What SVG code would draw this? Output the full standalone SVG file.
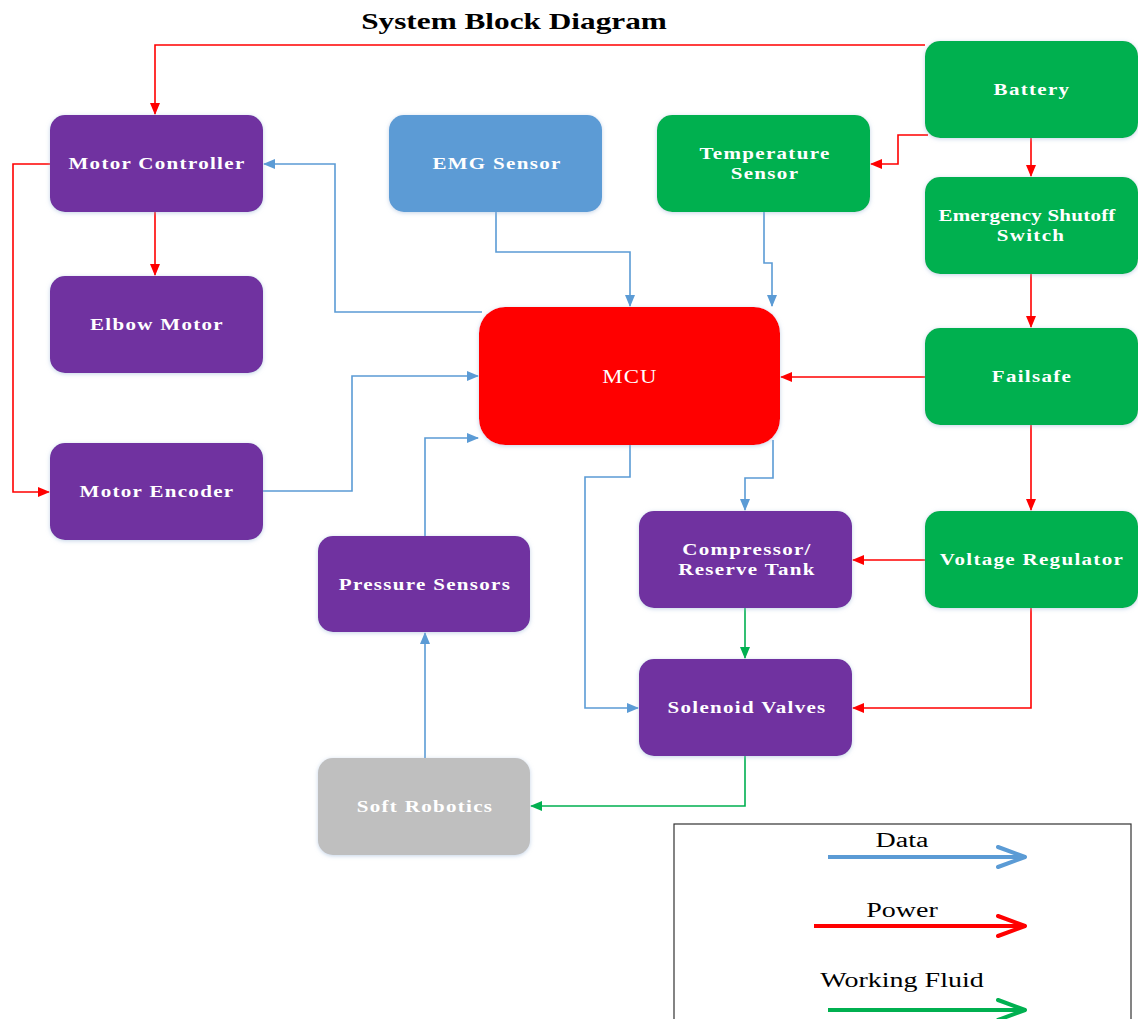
<svg xmlns="http://www.w3.org/2000/svg" width="1138" height="1019" viewBox="0 0 1138 1019">
  <style>
    .box { stroke: none; filter: url(#shadow); }
    .purple { fill: #7030A0; }
    .green { fill: #00B050; }
    .blue { fill: #5B9BD5; }
    .red { fill: #FF0000; }
    .gray { fill: #BFBFBF; }
    .label { font-family: "Liberation Serif", "Times New Roman", serif; font-weight: bold; font-size: 17.5px; fill: #FFFFFF; text-anchor: middle; letter-spacing: 1.1px; }
    .label.tight { letter-spacing: 0.2px; }
    .data { fill: none; stroke: #5B9BD5; stroke-width: 1.6; marker-end: url(#ahData); }
    .power { fill: none; stroke: #FF0000; stroke-width: 1.6; marker-end: url(#ahPower); }
    .fluid { fill: none; stroke: #00B050; stroke-width: 1.6; marker-end: url(#ahFluid); }
    .legtext { font-family: "Liberation Serif", "Times New Roman", serif; font-size: 20px; fill: #000000; text-anchor: middle; }
  </style>
  <defs>
    <filter id="shadow" x="-10%" y="-10%" width="120%" height="125%">
      <feGaussianBlur in="SourceAlpha" stdDeviation="2"/>
      <feOffset dx="0" dy="1" result="b"/>
      <feFlood flood-color="#9DB7D8" flood-opacity="0.6"/>
      <feComposite in2="b" operator="in"/>
      <feMerge><feMergeNode/><feMergeNode in="SourceGraphic"/></feMerge>
    </filter>
    <marker id="ahData" markerWidth="12" markerHeight="10" refX="11" refY="5" orient="auto" markerUnits="userSpaceOnUse">
      <path d="M0,0 L12,5 L0,10 Z" fill="#5B9BD5"/>
    </marker>
    <marker id="ahPower" markerWidth="12" markerHeight="10" refX="11" refY="5" orient="auto" markerUnits="userSpaceOnUse">
      <path d="M0,0 L12,5 L0,10 Z" fill="#FF0000"/>
    </marker>
    <marker id="ahFluid" markerWidth="12" markerHeight="10" refX="11" refY="5" orient="auto" markerUnits="userSpaceOnUse">
      <path d="M0,0 L12,5 L0,10 Z" fill="#00B050"/>
    </marker>
  </defs>

  <rect width="1138" height="1019" fill="#FFFFFF"/>

  <text transform="translate(514,29) scale(1.36,1)" font-family="Liberation Serif, Times New Roman, serif" font-weight="bold" font-size="23" text-anchor="middle" fill="#000000">System Block Diagram</text>

  <!-- connectors -->
  <g id="connectors">
    <!-- power -->
    <path class="power" d="M925,45 H155 V114"/>
    <path class="power" d="M928,135 H898 V164 H871"/>
    <path class="power" d="M1031,137 V176"/>
    <path class="power" d="M1031,274 V327"/>
    <path class="power" d="M925,377 H781"/>
    <path class="power" d="M1031,424 V510"/>
    <path class="power" d="M925,560 H853"/>
    <path class="power" d="M1031,608 V708 H853"/>
    <path class="power" d="M155,212 V275"/>
    <path class="power" d="M50,164 H13 V492 H49"/>
    <!-- data -->
    <path class="data" d="M482,312 H335 V164 H264"/>
    <path class="data" d="M496,212 V252 H630 V306"/>
    <path class="data" d="M764,212 V263 H772 V306"/>
    <path class="data" d="M263,491 H352 V376 H478"/>
    <path class="data" d="M425,536 V438 H478"/>
    <path class="data" d="M630,445 V477 H585 V708 H638"/>
    <path class="data" d="M773,440 V478 H745 V510"/>
    <path class="data" d="M425,758 V633"/>
    <!-- working fluid -->
    <path class="fluid" d="M745,608 V658"/>
    <path class="fluid" d="M745,756 V806 H531"/>
  </g>

  <!-- nodes (labels are drawn slightly widened) -->
  <g id="motor-controller">
    <rect class="box purple" x="50" y="115" width="213" height="97" rx="15"/>
    <text class="label" transform="translate(157,169) scale(1.2,1)">Motor Controller</text>
  </g>
  <g id="elbow-motor">
    <rect class="box purple" x="50" y="276" width="213" height="97" rx="15"/>
    <text class="label" transform="translate(157,330) scale(1.2,1)">Elbow Motor</text>
  </g>
  <g id="motor-encoder">
    <rect class="box purple" x="50" y="443" width="213" height="97" rx="15"/>
    <text class="label" transform="translate(157,497) scale(1.2,1)">Motor Encoder</text>
  </g>
  <g id="emg-sensor">
    <rect class="box blue" x="389" y="115" width="213" height="97" rx="15"/>
    <text class="label" transform="translate(497,169) scale(1.2,1)">EMG Sensor</text>
  </g>
  <g id="temperature-sensor">
    <rect class="box green" x="657" y="115" width="213" height="97" rx="15"/>
    <text class="label" transform="translate(765,159) scale(1.2,1)">Temperature</text>
    <text class="label" transform="translate(765,179) scale(1.2,1)">Sensor</text>
  </g>
  <g id="battery">
    <rect class="box green" x="925" y="41" width="213" height="97" rx="15"/>
    <text class="label" transform="translate(1032,95) scale(1.2,1)">Battery</text>
  </g>
  <g id="emergency-shutoff">
    <rect class="box green" x="925" y="177" width="213" height="97" rx="15"/>
    <text class="label tight" transform="translate(1027,221) scale(1.2,1)">Emergency Shutoff</text>
    <text class="label" transform="translate(1031,241) scale(1.2,1)">Switch</text>
  </g>
  <g id="failsafe">
    <rect class="box green" x="925" y="328" width="213" height="97" rx="15"/>
    <text class="label" transform="translate(1032,382) scale(1.2,1)">Failsafe</text>
  </g>
  <g id="voltage-regulator">
    <rect class="box green" x="925" y="511" width="213" height="97" rx="15"/>
    <text class="label" transform="translate(1032,565) scale(1.2,1)">Voltage Regulator</text>
  </g>
  <g id="mcu">
    <rect class="box red" x="479" y="307" width="301" height="138" rx="26"/>
    <text transform="translate(630,383) scale(1.2,1)" font-family="Liberation Serif, Times New Roman, serif" font-size="19" fill="#FFFFFF" text-anchor="middle" letter-spacing="1">MCU</text>
  </g>
  <g id="compressor">
    <rect class="box purple" x="639" y="511" width="213" height="97" rx="15"/>
    <text class="label" transform="translate(747,555) scale(1.2,1)">Compressor/</text>
    <text class="label" transform="translate(747,575) scale(1.2,1)">Reserve Tank</text>
  </g>
  <g id="solenoid-valves">
    <rect class="box purple" x="639" y="659" width="213" height="97" rx="15"/>
    <text class="label" transform="translate(747,713) scale(1.2,1)">Solenoid Valves</text>
  </g>
  <g id="pressure-sensors">
    <rect class="box purple" x="318" y="536" width="212" height="96" rx="15"/>
    <text class="label" transform="translate(425,590) scale(1.2,1)">Pressure Sensors</text>
  </g>
  <g id="soft-robotics">
    <rect class="box gray" x="318" y="758" width="212" height="97" rx="15"/>
    <text class="label" transform="translate(425,812) scale(1.2,1)">Soft Robotics</text>
  </g>

  <!-- legend -->
  <g id="legend">
    <rect x="674" y="824" width="457" height="200" fill="none" stroke="#333333" stroke-width="1.2"/>
    <text class="legtext" transform="translate(902,847) scale(1.4,1)">Data</text>
    <line x1="828" y1="857" x2="1024" y2="857" stroke="#5B9BD5" stroke-width="4"/>
    <polyline points="998,847 1025,857 998,867" fill="none" stroke="#5B9BD5" stroke-width="4" stroke-linecap="round" stroke-linejoin="round"/>
    <text class="legtext" transform="translate(902,917) scale(1.4,1)">Power</text>
    <line x1="814" y1="926" x2="1024" y2="926" stroke="#FF0000" stroke-width="4"/>
    <polyline points="998,916 1025,926 998,936" fill="none" stroke="#FF0000" stroke-width="4" stroke-linecap="round" stroke-linejoin="round"/>
    <text class="legtext" transform="translate(902,987) scale(1.4,1)">Working Fluid</text>
    <line x1="828" y1="1010" x2="1024" y2="1010" stroke="#00B050" stroke-width="4"/>
    <polyline points="998,1000 1025,1010 998,1020" fill="none" stroke="#00B050" stroke-width="4" stroke-linecap="round" stroke-linejoin="round"/>
  </g>
</svg>
